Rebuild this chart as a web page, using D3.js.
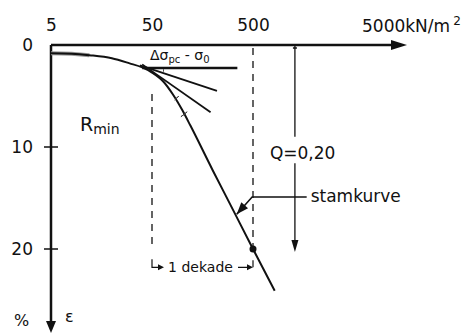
<!DOCTYPE html>
<html><head><meta charset="utf-8">
<script src="https://cdn.jsdelivr.net/npm/d3@7"></script>
<style>
body{margin:0;background:#fff}
svg{display:block;font-family:"DejaVu Sans",sans-serif}
</style></head><body>
<div id="chart"></div>
<script>
// stress (kN/m2, log axis) against strain (%)
const stress = [5, 8, 12, 20, 30, 40, 50, 65, 80, 100, 120, 200, 300, 500, 820]
const strain = [0.8, 0.85, 1.0, 1.3, 1.8, 2.2, 2.7, 3.6, 4.8, 6.4, 7.9, 12.3, 15.7, 20, 24.1]
const xTicks = [5, 50, 500]
const yTicks = [0, 10, 20]
// construction lines at the preconsolidation point
const horizStress = [40, 350], horizStrain = [2.25, 2.25]
const tan1Stress = [38, 220], tan1Strain = [2.0, 4.5]
const tan2Stress = [40, 190], tan2Strain = [1.9, 6.6]
const markStress = [65, 88, 104], markStrain = [2.5, 5.2, 6.8]
const markCenter = [47, 2.45]
const dekadeStress = [50, 500]
const qStress = 1300, qGap = [9.0, 11.6]
const pointStress = 500, pointStrain = 20
const leaderStress = [1700, 490, 345], leaderStrain = [14.9, 14.9, 16.6]

const width = 467, height = 335
const x = d3.scaleLog().domain([5, 5000]).range([51, 354])
const y = d3.scaleLinear().domain([0, 20]).range([45, 249])

const svg = d3.select("#chart").append("svg")
  .attr("width", width).attr("height", height)

const ink = "#111"
const x0 = x(5), y0 = y(0)

// axes
svg.append("line").attr("x1", x0).attr("y1", y0).attr("x2", 395).attr("y2", y0)
  .attr("stroke", ink).attr("stroke-width", 2.5)
svg.append("path").attr("d", `M407,${y0} L391,${y0 - 5} L391,${y0 + 5} Z`).attr("fill", ink)
svg.append("line").attr("x1", x0).attr("y1", y0).attr("x2", x0).attr("y2", 322)
  .attr("stroke", ink).attr("stroke-width", 2.5)
svg.append("path").attr("d", `M${x0},333 L${x0 - 5},321 L${x0 + 5},321 Z`).attr("fill", ink)

const xAxis = svg.append("g").attr("transform", `translate(0,${y0})`)
  .call(d3.axisTop(x).tickValues(xTicks).tickFormat(d3.format("d")).tickSize(0).tickPadding(14))
xAxis.select(".domain").remove()
xAxis.selectAll("text").attr("font-size", 17).attr("fill", ink).attr("font-family", "DejaVu Sans")

svg.append("text").attr("x", x(5000) + 8).attr("y", 32).attr("font-size", 17).attr("fill", ink)
  .text("5000kN/m").append("tspan").attr("dy", -7).attr("dx", 3).attr("font-size", 12).text("2")

const yAxis = svg.append("g").attr("transform", `translate(${x0},0)`)
  .call(d3.axisLeft(y).tickValues(yTicks).tickSize(0).tickPadding(18))
yAxis.select(".domain").remove()
yAxis.selectAll("text").attr("font-size", 17).attr("fill", ink).attr("font-family", "DejaVu Sans")
svg.selectAll(".ytick").data(yTicks.filter(d => d > 0)).join("line")
  .attr("x1", x0 - 7).attr("x2", x0 + 7).attr("y1", d => y(d)).attr("y2", d => y(d))
  .attr("stroke", ink).attr("stroke-width", 1.5)

svg.append("text").attr("x", 14).attr("y", 326).attr("font-size", 16).attr("fill", ink).text("%")
svg.append("text").attr("x", 65).attr("y", 322).attr("font-size", 16).attr("fill", ink).text("ε")

// dashed decade guides
svg.selectAll(".guide").data(dekadeStress).join("line")
  .attr("x1", d => x(d)).attr("x2", d => x(d))
  .attr("y1", (d, i) => i === 0 ? y(4.8) : y(0.3)).attr("y2", y(20))
  .attr("stroke", ink).attr("stroke-width", 1.3).attr("stroke-dasharray", "7,6")

// curve
const pts = stress.map((s, i) => [x(s), y(strain[i])])
svg.append("path").attr("d", d3.line()(pts.slice(0, 3)))
  .attr("fill", "none").attr("stroke", "#999").attr("stroke-width", 4)
svg.append("path").attr("d", d3.line().curve(d3.curveMonotoneX)(pts))
  .attr("fill", "none").attr("stroke", ink).attr("stroke-width", 2)

// construction lines
const segs = [[horizStress, horizStrain, 2.5], [tan1Stress, tan1Strain, 1.8], [tan2Stress, tan2Strain, 1.8]]
segs.forEach(([s, e, w]) => {
  svg.append("line").attr("x1", x(s[0])).attr("y1", y(e[0])).attr("x2", x(s[1])).attr("y2", y(e[1]))
    .attr("stroke", ink).attr("stroke-width", w)
})
const cx = x(markCenter[0]), cy = y(markCenter[1])
markStress.forEach((s, i) => {
  const dx = x(s) - cx, dy = y(markStrain[i]) - cy
  const r = Math.hypot(dx, dy), a = Math.atan2(dy, dx) + Math.PI / 2
  svg.append("path").attr("transform", `translate(${cx},${cy})`)
    .attr("d", d3.arc().innerRadius(r).outerRadius(r).startAngle(a - 0.07).endAngle(a + 0.07)())
    .attr("fill", "none").attr("stroke", "#444").attr("stroke-width", 1)
})
const dl = svg.append("text").attr("x", x(50) - 2).attr("y", 60).attr("font-size", 14).attr("fill", ink)
dl.append("tspan").text("Δσ")
dl.append("tspan").attr("dy", 3).attr("font-size", 10).text("pc")
dl.append("tspan").attr("dy", -3).text(" - σ")
dl.append("tspan").attr("dy", 3).attr("font-size", 10).text("0")

// point at 500
svg.append("circle").attr("cx", x(pointStress)).attr("cy", y(pointStrain)).attr("r", 3.5).attr("fill", ink)

// Q line
svg.append("line").attr("x1", x(qStress)).attr("x2", x(qStress)).attr("y1", y(0)).attr("y2", y(qGap[0]))
  .attr("stroke", ink).attr("stroke-width", 1.3)
svg.append("line").attr("x1", x(qStress) - 2).attr("x2", x(qStress) + 2).attr("y1", y(0) + 3).attr("y2", y(0) + 3)
  .attr("stroke", ink).attr("stroke-width", 1.5)
svg.append("line").attr("x1", x(qStress)).attr("x2", x(qStress)).attr("y1", y(qGap[1])).attr("y2", y(20) - 8)
  .attr("stroke", ink).attr("stroke-width", 1.3)
svg.append("path").attr("d", `M${x(qStress)},${y(20) + 3} L${x(qStress) - 3.5},${y(20) - 9} L${x(qStress) + 3.5},${y(20) - 9} Z`).attr("fill", ink)
svg.append("text").attr("x", x(qStress) - 25).attr("y", y(11.2)).attr("font-size", 17).attr("fill", ink).text("Q=0,20")

// stamkurve leader
const lp = leaderStress.map((s, i) => [x(s), y(leaderStrain[i])])
svg.append("path").attr("d", d3.line()(lp)).attr("fill", "none").attr("stroke", ink).attr("stroke-width", 1.6)
{
  const [tx, ty] = lp[2], [fx, fy] = lp[1]
  const ang = Math.atan2(ty - fy, tx - fx)
  const L = 12, W = 4.5
  const bx = tx - L * Math.cos(ang), by = ty - L * Math.sin(ang)
  svg.append("path").attr("d", `M${tx},${ty} L${bx - W * Math.sin(ang)},${by + W * Math.cos(ang)} L${bx + W * Math.sin(ang)},${by - W * Math.cos(ang)} Z`).attr("fill", ink)
}
svg.append("text").attr("x", lp[0][0] + 4).attr("y", lp[0][1] + 5).attr("font-size", 17).attr("fill", ink).text("stamkurve")

// R_min
const rt = svg.append("text").attr("x", 80).attr("y", 131).attr("font-size", 19).attr("fill", ink)
rt.append("tspan").text("R")
rt.append("tspan").attr("dy", 3).attr("font-size", 14).text("min")

// 1 dekade bracket
const by = y(21.8), bx0 = x(dekadeStress[0]), bx1 = x(dekadeStress[1])
svg.append("path").attr("d", `M${bx0},${by - 8} L${bx0},${by} L${bx0 + 8},${by}`).attr("fill", "none").attr("stroke", ink).attr("stroke-width", 1.2)
svg.append("path").attr("d", `M${bx0 + 12},${by} L${bx0 + 6},${by - 3} L${bx0 + 6},${by + 3} Z`).attr("fill", ink)
svg.append("path").attr("d", `M${bx1 - 15},${by} L${bx1 - 4},${by} M${bx1},${by} L${bx1},${by - 7}`).attr("fill", "none").attr("stroke", ink).attr("stroke-width", 1.2)
svg.append("path").attr("d", `M${bx1},${by} L${bx1 - 6},${by - 3} L${bx1 - 6},${by + 3} Z`).attr("fill", ink)
svg.append("text").attr("x", (bx0 + bx1) / 2 - 2).attr("y", by + 5).attr("text-anchor", "middle")
  .attr("font-size", 14).attr("fill", ink).text("1 dekade")
</script>
</body></html>
